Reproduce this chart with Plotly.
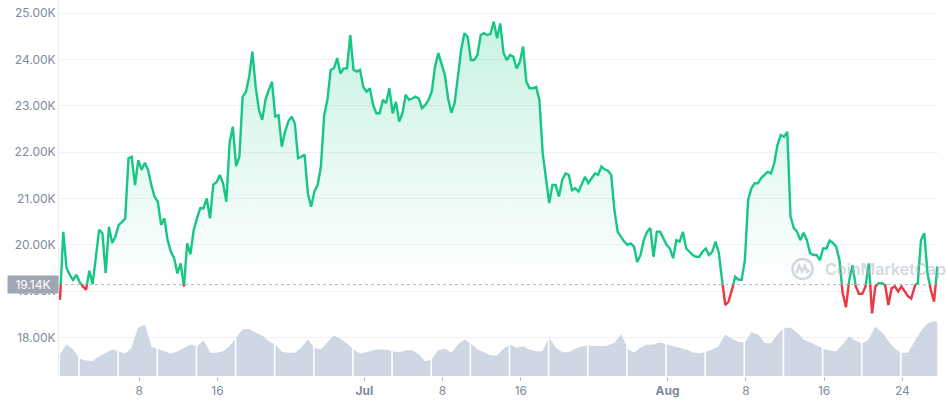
import numpy as np
import pandas as pd
import plotly.graph_objects as go

# ---------------- data ----------------
START = "2022-05-30 21:36"   # first sample
STEP = "8h"                  # sampling interval of the price series

price = [
    18810, 20280, 19500, 19350, 19240, 19350, 19200, 19100, 19030, 19440,
    19150, 19760, 20320, 20250, 19390, 20390, 20040, 20180, 20430, 20490,
    20570, 21870, 21900, 21290, 21830, 21620, 21770, 21620, 21290, 21040,
    20930, 20430, 20570, 20100, 19850, 19710, 19380, 19600, 19100, 20030,
    19800, 20320, 20570, 20790, 20790, 21000, 20570, 21300, 21350, 21510,
    21330, 20930, 22200, 22550, 21700, 21900, 23200, 23300, 23630, 24170,
    23410, 22910, 22700, 23130, 23340, 23520, 22770, 22800, 22120, 22440,
    22660, 22770, 22620, 21870, 21900, 21950, 21110, 20820, 21150, 21290,
    21690, 22800, 23130, 23780, 23810, 24030, 23700, 23810, 23810, 24530,
    23780, 23740, 23780, 23410, 23310, 23380, 23020, 22840, 22840, 23130,
    23060, 23380, 22840, 23090, 22660, 22840, 23240, 23130, 23160, 23200,
    23160, 22950, 23020, 23130, 23310, 23850, 24140, 23880, 23670, 23160,
    22850, 23060, 23700, 24210, 24570, 24490, 23990, 23990, 24100, 24530,
    24570, 24530, 24550, 24820, 24460, 24780, 24140, 23990, 24100, 24060,
    23810, 23950, 24280, 23520, 23380, 23380, 23410, 23130, 21980, 21400,
    20900, 21290, 21290, 21040, 21400, 21540, 21510, 21180, 21220, 21150,
    21330, 21470, 21330, 21440, 21540, 21510, 21690, 21630, 21600, 21510,
    20750, 20280, 20170, 20070, 20000, 20030, 19960, 19630, 19780, 20100,
    20280, 20360, 19740, 20280, 20280, 20140, 20000, 19920, 19710, 20100,
    20070, 20280, 19920, 19850, 19780, 19740, 19740, 19850, 19920, 19780,
    19850, 20070, 19830, 19240, 18700, 18770, 18990, 19310, 19250, 19240,
    19670, 20970, 21220, 21330, 21330, 21440, 21510, 21580, 21540, 21760,
    22160, 22370, 22330, 22440, 20610, 20360, 20280, 20100, 20260, 20100,
    19820, 19780, 19780, 19670, 19920, 19920, 20090, 20040, 19960, 19670,
    18950, 18650, 19240, 19560, 19100, 18940, 18940, 19100, 19600, 18520,
    19100, 19170, 19170, 19130, 18700, 19060, 19100, 18990, 19100, 18990,
    18890, 18840, 19130, 19170, 20100, 20250, 19380, 19030, 18770, 19530,
]

# 24h volume in $B, taken at every second price sample plus the last one
volume_b = [
    16.8, 24.8, 20.8, 13.4, 12.0, 11.4, 15.4, 18.2, 20.8, 19.4,
    17.6, 22.2, 38.2, 40.6, 22.6, 21.4, 19.4, 17.4, 19.4, 22.2,
    24.8, 23.4, 28.0, 18.2, 18.2, 19.4, 23.4, 30.2, 36.8, 37.4,
    34.2, 32.0, 27.4, 24.8, 19.0, 18.2, 18.2, 22.2, 28.8, 22.2,
    20.8, 26.6, 32.0, 29.4, 25.6, 20.8, 17.6, 18.6, 20.2, 20.8,
    20.8, 19.4, 18.6, 20.2, 20.2, 16.8, 11.4, 12.8, 20.2, 21.4,
    18.2, 24.8, 28.8, 25.6, 20.8, 18.6, 16.2, 16.0, 21.4, 24.8,
    22.2, 23.4, 20.8, 19.4, 19.4, 30.2, 22.2, 18.6, 18.6, 21.4,
    23.4, 24.0, 23.4, 23.4, 24.0, 26.2, 32.8, 21.4, 18.2, 22.2,
    24.8, 24.8, 26.6, 24.8, 23.4, 22.2, 20.8, 18.6, 17.6, 19.0,
    20.8, 23.4, 32.8, 29.4, 27.0, 26.2, 34.6, 32.8, 26.2, 25.6,
    32.8, 38.2, 38.2, 34.2, 28.8, 26.6, 24.0, 21.6, 20.0, 19.4,
    24.8, 31.4, 27.8, 25.6, 28.8, 39.0, 34.6, 27.4, 21.4, 18.2,
    18.2, 26.6, 35.4, 41.6, 43.4, 42.6,
]

baseline = 19140            # reference price (first price of the period)
baseline_label = "19.14K"

x_tick_dates = ["2022-06-08", "2022-06-16", "2022-07-01", "2022-07-09",
                "2022-07-17", "2022-08-01", "2022-08-09", "2022-08-17",
                "2022-08-25"]
x_tick_text = ["8", "16", "<b>Jul</b>", "8", "16", "<b>Aug</b>", "8", "16", "24"]

y_tick_vals = [18000, 19000, 20000, 21000, 22000, 23000, 24000, 25000]
y_tick_text = ["18.00K", "19.00K", "20.00K", "21.00K", "22.00K", "23.00K",
               "24.00K", "25.00K"]

SEP_START = "2022-06-01 20:10"   # white separators in the volume band
SEP_COUNT = 22
SEP_STEP = "4D"

# ---------------- styles ----------------
GREEN = "#16c784"
RED = "#ea3943"
VOL = "#cfd6e4"
GRID = "#eff2f5"
LABEL = "#808a9d"

# ---------------- build ----------------
dates = pd.date_range(START, periods=len(price), freq=STEP)
vol_idx = list(range(0, len(price), 2)) + [len(price) - 1]
vol_dates = dates[vol_idx]

# insert baseline crossings so green / red segments join exactly
tn = dates.asi8.astype(float)
ts, vs = [tn[0]], [float(price[0])]
for i in range(1, len(price)):
    a, b = price[i - 1], price[i]
    if (a - baseline) * (b - baseline) < 0:
        f = (baseline - a) / (b - a)
        ts.append(tn[i - 1] + f * (tn[i] - tn[i - 1]))
        vs.append(float(baseline))
    ts.append(tn[i])
    vs.append(float(b))
td = pd.to_datetime(np.array(ts).astype("int64"))
vs = np.array(vs)

green_line = [v if v >= baseline else None for v in vs]
red_line = [v if v <= baseline else None for v in vs]
base_arr = np.full(len(vs), baseline, dtype=float)

fig = go.Figure()

fig.add_trace(go.Scatter(
    x=[d.strftime("%Y-%m-%d %H:%M") for d in vol_dates], y=volume_b,
    yaxis="y2", mode="lines",
    line=dict(width=0.8, color="#c9d1df"), fill="tozeroy", fillcolor=VOL,
    hoverinfo="skip", showlegend=False))

# white separators inside the volume band (drawn as a trace on top of it)
sep_times = pd.date_range(SEP_START, periods=SEP_COUNT, freq=SEP_STEP)
sep_vals = np.interp(sep_times.asi8.astype(float), vol_dates.asi8.astype(float),
                     volume_b)
sx, sy = [], []
for st, sv in zip(sep_times, sep_vals):
    s = st.strftime("%Y-%m-%d %H:%M")
    sx += [s, s, None]
    sy += [0.0, float(sv) + 1.0, None]
fig.add_trace(go.Scatter(x=sx, y=sy, yaxis="y2", mode="lines",
                         line=dict(color="white", width=1.6),
                         connectgaps=False,
                         hoverinfo="skip", showlegend=False))

fig.add_trace(go.Scatter(x=td, y=base_arr, mode="lines", line=dict(width=0),
                         hoverinfo="skip", showlegend=False))
fig.add_trace(go.Scatter(
    x=td, y=np.maximum(vs, baseline), mode="lines", line=dict(width=0),
    fill="tonexty",
    fillgradient=dict(type="vertical", start=baseline, stop=25000,
                      colorscale=[[0, "rgba(22,199,132,0)"],
                                  [1, "rgba(22,199,132,0.24)"]]),
    hoverinfo="skip", showlegend=False))
fig.add_trace(go.Scatter(x=td, y=base_arr, mode="lines", line=dict(width=0),
                         hoverinfo="skip", showlegend=False))
fig.add_trace(go.Scatter(
    x=td, y=np.minimum(vs, baseline), mode="lines", line=dict(width=0),
    fill="tonexty",
    fillgradient=dict(type="vertical", start=18400, stop=baseline,
                      colorscale=[[0, "rgba(234,57,67,0.12)"],
                                  [1, "rgba(234,57,67,0)"]]),
    hoverinfo="skip", showlegend=False))

fig.add_trace(go.Scatter(x=td, y=green_line, mode="lines",
                         line=dict(color=GREEN, width=2.4), connectgaps=False,
                         showlegend=False))
fig.add_trace(go.Scatter(x=td, y=red_line, mode="lines",
                         line=dict(color=RED, width=2.4), connectgaps=False,
                         showlegend=False))

shapes = []
# dotted baseline
shapes.append(dict(type="line", xref="paper", x0=0, x1=1, yref="y",
                   y0=baseline, y1=baseline, layer="between",
                   line=dict(color="#b4bccb", width=1, dash="dot")))

# watermark logo
W_PX_L, W_PX_R = 59, 938.5
PLOT_W = W_PX_R - W_PX_L
PLOT_H = 376
lx, ly = (803 - W_PX_L) / PLOT_W, (PLOT_H - 269) / PLOT_H
wm = "rgba(170,178,192,0.5)"
shapes.append(dict(type="circle", xref="paper", yref="paper",
                   xsizemode="pixel", ysizemode="pixel", xanchor=lx, yanchor=ly,
                   x0=-10, x1=10, y0=-10, y1=10, layer="above",
                   line=dict(color=wm, width=2.6)))
shapes.append(dict(type="path", xref="paper", yref="paper",
                   xsizemode="pixel", ysizemode="pixel", xanchor=lx, yanchor=ly,
                   path="M -6 -4 L -3.5 3.5 L -0.5 -2.5 L 2.5 3.5 L 4.5 -3 L 7 -1.5",
                   layer="above", line=dict(color=wm, width=2.4)))

annotations = [
    dict(xref="paper", yref="paper", x=(823 - W_PX_L) / PLOT_W, y=ly,
         xanchor="left", yanchor="middle", text="CoinMarketCap", showarrow=False,
         font=dict(family="Inter", size=16, color=wm, weight=600)),
    dict(xref="paper", yref="y", x=0, y=baseline, xanchor="right",
         yanchor="middle", text=baseline_label, showarrow=False,
         width=50, height=17, bgcolor="#a0a7b4", borderpad=0,
         font=dict(family="Inter", size=12, color="white")),
]

px_per_day = 9.79
x_left = dates[0] - pd.Timedelta(days=1 / px_per_day)
x_right = dates[-1] + pd.Timedelta(days=0.7 / px_per_day)

fig.update_layout(
    width=948, height=406,
    margin=dict(l=59, r=10, t=0, b=30, pad=0),
    paper_bgcolor="white", plot_bgcolor="white",
    font=dict(family="Inter", size=12, color=LABEL),
    shapes=shapes, annotations=annotations,
    hovermode=False,
    xaxis=dict(type="date", range=[x_left, x_right], tickvals=x_tick_dates,
               ticktext=x_tick_text, ticks="outside", ticklen=4,
               tickcolor="#b8bfcc", showgrid=False, showline=False,
               zeroline=False, tickfont=dict(size=12, color=LABEL)),
    yaxis=dict(range=[17166, 25287], tickvals=y_tick_vals, ticktext=y_tick_text,
               showgrid=True, gridcolor=GRID, gridwidth=1, zeroline=False,
               showline=True, linecolor="#e9ecf1", ticks="",
               tickfont=dict(size=12, color=LABEL)),
    yaxis2=dict(overlaying="y", range=[0, 300.8], visible=False),
)

fig.write_html("out.html", config={"displayModeBar": False},
               post_script="document.body.style.margin='0';")
